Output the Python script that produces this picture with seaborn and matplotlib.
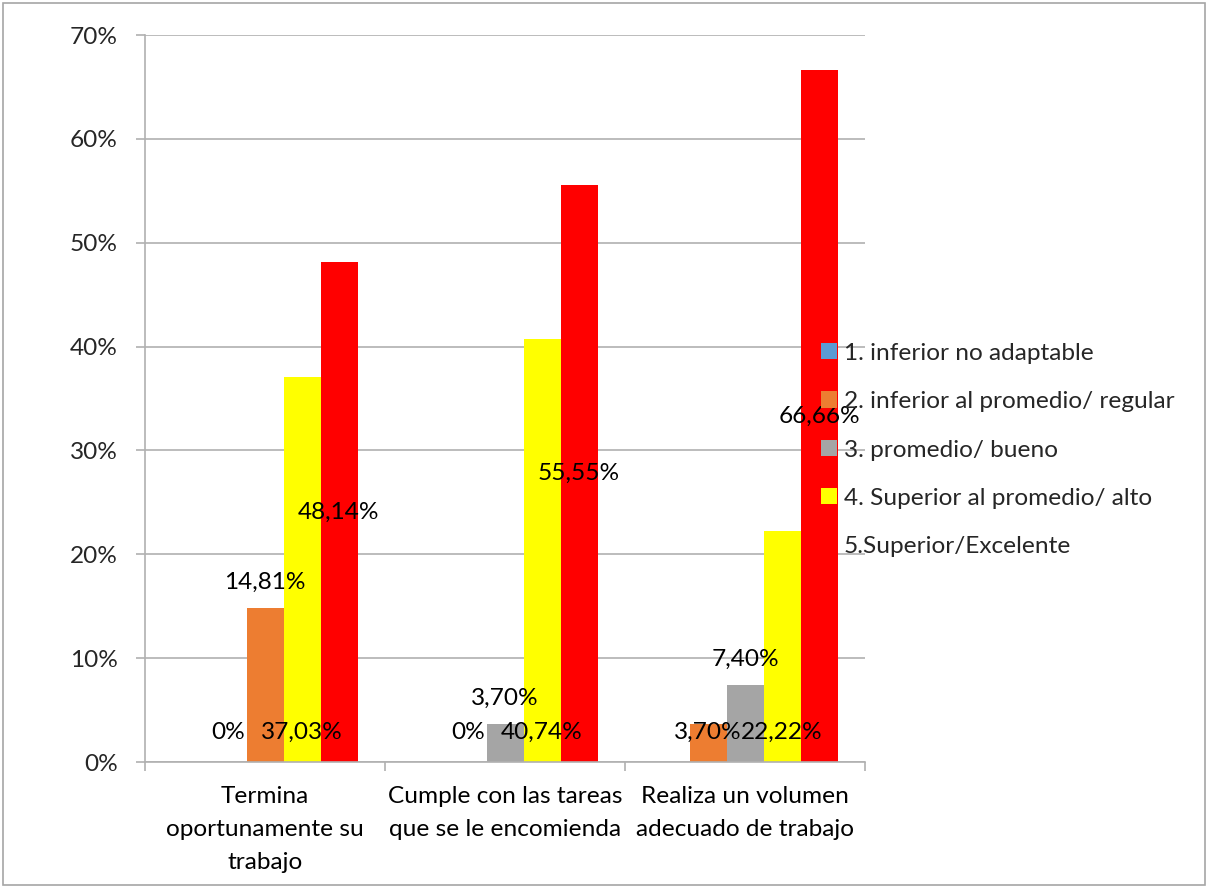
import matplotlib
matplotlib.use("Agg")
import matplotlib.pyplot as plt
import matplotlib.patches as mpatches
from matplotlib.ticker import FixedLocator, FuncFormatter
import pandas as pd
import seaborn as sns

categories = [
    "Termina\noportunamente su\ntrabajo",
    "Cumple con las tareas\nque se le encomienda",
    "Realiza un volumen\nadecuado de trabajo",
]
series = [
    "1. inferior no adaptable",
    "2. inferior al promedio/ regular",
    "3. promedio/ bueno",
    "4. Superior al promedio/ alto",
    "5.Superior/Excelente",
]
s1_values = [0.0, 0.0, 0.0]
s2_values = [0.0, 0.0, 3.70]
s3_values = [14.81, 3.70, 7.40]
s4_values = [37.03, 40.74, 22.22]
s5_values = [48.14, 55.55, 66.66]
colors = ["#5B9BD5", "#ED7D31", "#A5A5A5", "#FFFF00", "#FF0000"]
y_ticks = [0, 10, 20, 30, 40, 50, 60, 70]

all_values = [s1_values, s2_values, s3_values, s4_values, s5_values]
rows = []
for name, vals in zip(series, all_values):
    for cat, v in zip(categories, vals):
        rows.append({"categoria": cat, "serie": name, "valor": v})
df = pd.DataFrame(rows)

sns.set_style("white")
plt.rcParams["font.family"] = ["Lato", "DejaVu Sans"]
FS = 17.6
GRID = "#b0b0b0"

fig = plt.figure(figsize=(12.08, 8.88), dpi=100)
ax = fig.add_axes([145 / 1208, 1 - 762 / 888, 720 / 1208, 727 / 888])

sns.barplot(data=df, x="categoria", y="valor", hue="serie", order=categories,
            hue_order=series, palette=colors, saturation=1, width=185 / 240,
            gap=0, ax=ax, legend=False, linewidth=0, errorbar=None)

# first group: the "bueno" bar is shown in orange
ax.containers[2][0].set_facecolor(colors[1])

ax.set_xlim(-0.5, 2.5)
ax.set_ylim(0, 70)
ax.yaxis.set_major_locator(FixedLocator(y_ticks))
ax.yaxis.set_major_formatter(FuncFormatter(lambda v, p: f"{int(v)}%"))
ax.grid(axis="y", color=GRID, linewidth=1.2)
ax.set_axisbelow(True)
for side in ["top", "right"]:
    ax.spines[side].set_visible(False)
for side in ["left", "bottom"]:
    ax.spines[side].set_color(GRID)
    ax.spines[side].set_linewidth(1.2)
ax.set_xlabel("")
ax.set_ylabel("")
ax.tick_params(axis="y", length=6.5, width=1.2, color=GRID, pad=13, labelsize=FS,
               left=True)

# category names under each group, with wider line spacing
ax.set_xticks(range(len(categories)))
ax.set_xticklabels([""] * len(categories))
ax.tick_params(axis="x", which="major", length=0)
for i, cat in enumerate(categories):
    ax.annotate(cat, (i, 0), xycoords=("data", "axes fraction"), xytext=(0, -17),
                textcoords="offset points", ha="center", va="top",
                multialignment="center", linespacing=1.72, fontsize=FS,
                color="black")
ax.set_xticks([-0.5, 0.5, 1.5, 2.5], minor=True)
ax.tick_params(axis="x", which="minor", length=6.5, width=1.2, color=GRID,
               bottom=True)


def fmt(v):
    if v == 0:
        return "0%"
    return f"{v:.2f}".replace(".", ",") + "%"


# data labels: series 2 and 4 at the base, series 3 above the bar, series 5 centred
for idx, cont in enumerate(ax.containers):
    if idx == 0:
        continue
    vals = all_values[idx]
    for bar, v in zip(cont, vals):
        xc = bar.get_x() + bar.get_width() / 2
        if idx in (1, 3):
            ax.annotate(fmt(v), (xc, 0), xytext=(0, 21), textcoords="offset points",
                        ha="center", va="center", fontsize=FS, color="black")
        elif idx == 2:
            ax.annotate(fmt(v), (xc, v), xytext=(0, 18.5), textcoords="offset points",
                        ha="center", va="center", fontsize=FS, color="black")
        else:
            ax.annotate(fmt(v), (xc, v / 2), xytext=(0, 0), textcoords="offset points",
                        ha="center", va="center", fontsize=FS, color="black")

handles = [mpatches.Patch(facecolor=c, edgecolor="none") for c in colors]
fig.legend(handles, series, loc="upper left",
           bbox_to_anchor=(811 / 1208, 1 - 333 / 888), frameon=False,
           fontsize=FS, handlelength=0.65, handleheight=0.65, handletextpad=0.3,
           labelspacing=1.12, borderaxespad=0)

fig.patches.append(mpatches.Rectangle((3 / 1208, 3 / 888), 1202 / 1208, 882 / 888,
                                      transform=fig.transFigure, fill=False,
                                      edgecolor="#a6a6a6", linewidth=1.2))

fig.savefig("out.png", dpi=100)
